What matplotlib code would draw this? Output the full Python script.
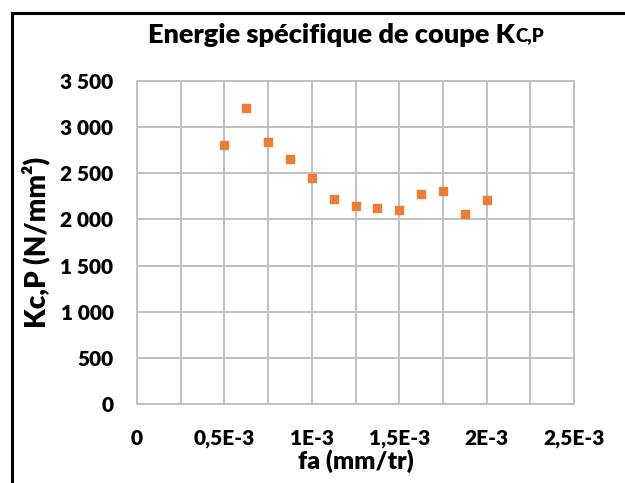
import matplotlib
matplotlib.use("Agg")
import matplotlib.pyplot as plt
from matplotlib.lines import Line2D

plt.rcParams['font.family'] = ['Lato', 'DejaVu Sans']

# avance par tour (mm/tr) et energie specifique de coupe (N/mm2)
fa = [0.5e-3, 0.625e-3, 0.75e-3, 0.875e-3, 1.0e-3, 1.125e-3, 1.25e-3,
      1.375e-3, 1.5e-3, 1.625e-3, 1.75e-3, 1.875e-3, 2.0e-3]
kcp = [2805, 3210, 2840, 2650, 2445, 2220, 2150, 2120, 2100, 2275, 2305, 2055, 2205]

x_ticks = [0, 0.5e-3, 1e-3, 1.5e-3, 2e-3, 2.5e-3]
x_labels = ['0', '0,5E-3', '1E-3', '1,5E-3', '2E-3', '2,5E-3']
y_ticks = [0, 500, 1000, 1500, 2000, 2500, 3000, 3500]
y_labels = ['0', '500', '1 000', '1 500', '2 000', '2 500', '3 000', '3 500']

grid_col = '#c0c0c0'

fig = plt.figure(figsize=(6.25, 4.83), dpi=100)
ax = fig.add_axes([0.2192, 0.1629, 0.6992, 0.67])

ax.plot(fa, kcp, linestyle='none', marker='s', ms=6, color='#ED7D31', zorder=3)

ax.set_xlim(0, 2.5e-3)
ax.set_ylim(0, 3500)
ax.set_xticks(x_ticks)
ax.set_xticklabels(x_labels, fontsize=15, fontweight='heavy')
ax.set_xticks([i * 0.25e-3 for i in range(11)], minor=True)
ax.set_yticks(y_ticks)
ax.set_yticklabels(y_labels, fontsize=15, fontweight='heavy')
ax.tick_params(axis='both', which='both', length=0)
ax.tick_params(axis='x', pad=18)
ax.tick_params(axis='y', pad=17)
ax.grid(True, which='both', color=grid_col, linewidth=1.4)
for s in ax.spines.values():
    s.set_color(grid_col)
    s.set_linewidth(1.4)

ax.set_xlabel('fa (mm/tr)', fontsize=18, fontweight='heavy', labelpad=1)
ax.set_ylabel('Kc,P (N/mm²)', fontsize=20, fontweight='heavy', labelpad=7)

# titre avec indice plus petit
t = fig.text(148 / 625, 0.927, 'Energie spécifique de coupe K', fontsize=19.5,
             fontweight='heavy', ha='left', va='center')
fig.canvas.draw()
bb = t.get_window_extent()
fig.text((bb.x1 + 1) / fig.bbox.width, (bb.y0 + 3) / fig.bbox.height, 'C,P',
         fontsize=13.5, fontweight='heavy', ha='left', va='bottom')

# cadre gauche et haut
fig.add_artist(Line2D([11.5 / 625, 11.5 / 625], [0, 1 - 13 / 483],
                      color='black', linewidth=2.2, transform=fig.transFigure))
fig.add_artist(Line2D([11.5 / 625, 1], [1 - 13 / 483, 1 - 13 / 483],
                      color='black', linewidth=2.2, transform=fig.transFigure))

fig.savefig('out.png', dpi=100)
